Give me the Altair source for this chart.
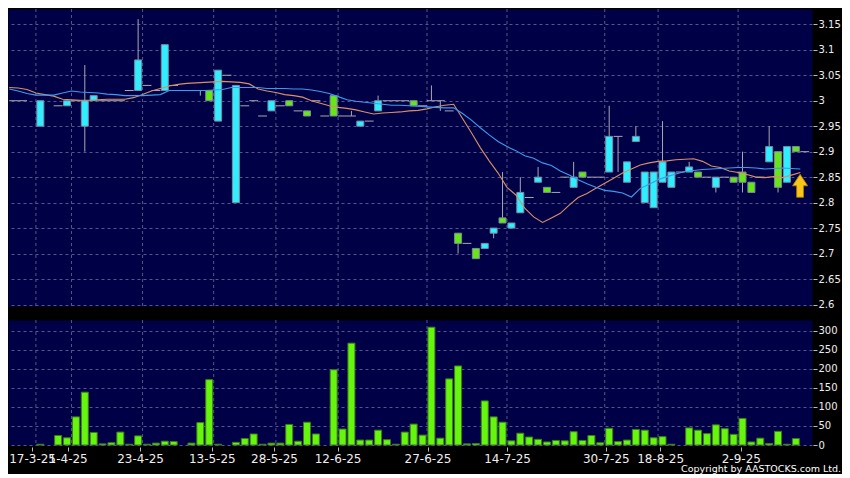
import altair as alt
import pandas as pd

# ---------------- data ----------------
opens = [3.00, 3.00, None, 2.95, None, 2.99, 2.99, 3.00, 2.95, 3.00,
         3.00, 3.00, 3.00, 3.02, 3.02, 3.03, 3.02, 3.02, 3.03, None,
         3.02, 3.02, 3.02, 2.96, 3.05, 2.80, 2.99, 3.00, 2.97, 2.98,
         2.99, 3.00, 2.98, 2.98, 3.00, 2.97, 3.01, 2.97, 2.97, 2.95,
         2.96, 2.98, 3.00, 3.00, 3.00, 3.00, 2.99, 3.00, 3.00, 2.98,
         2.74, 2.72, 2.71, 2.71, 2.74, 2.77, 2.75, 2.78, 2.81, 2.84,
         2.83, 2.82, 2.85, 2.83, 2.86, 2.85, 2.85, 2.86, 2.93, 2.84,
         2.92, 2.80, 2.79, 2.84, 2.83, 2.86, 2.86, 2.86, 2.85, 2.83,
         2.85, 2.85, 2.86, 2.84, 2.85, 2.88, 2.90, 2.84, 2.91, 2.90]
closes = [3.00, 3.00, None, 3.00, None, 2.99, 3.00, 3.00, 3.00, 3.01,
          3.00, 3.00, 3.00, 3.02, 3.08, 3.03, 3.02, 3.11, 3.03, None,
          3.02, 3.02, 3.00, 3.06, 3.05, 3.03, 2.99, 3.00, 2.97, 3.00,
          2.99, 2.99, 2.98, 2.97, 3.00, 2.97, 2.97, 2.97, 2.97, 2.96,
          2.96, 3.00, 3.00, 3.00, 3.00, 2.99, 2.99, 3.00, 3.00, 2.98,
          2.72, 2.72, 2.69, 2.72, 2.75, 2.76, 2.76, 2.82, 2.81, 2.85,
          2.82, 2.82, 2.85, 2.85, 2.85, 2.85, 2.85, 2.93, 2.93, 2.88,
          2.93, 2.86, 2.86, 2.88, 2.86, 2.86, 2.87, 2.85, 2.85, 2.85,
          2.85, 2.84, 2.84, 2.82, 2.85, 2.91, 2.83, 2.91, 2.90, 2.90]
highs = [3.00, 3.00, None, 3.00, None, 2.99, 3.00, 3.00, 3.07, 3.01,
         3.00, 3.00, 3.00, 3.02, 3.16, 3.03, 3.02, 3.11, 3.03, None,
         3.02, 3.02, 3.02, 3.06, 3.05, 3.03, 2.99, 3.00, 2.97, 3.00,
         2.99, 3.00, 2.98, 2.98, 3.00, 2.97, 3.01, 2.97, 2.98, 2.96,
         2.96, 3.01, 3.00, 3.00, 3.00, 3.00, 2.99, 3.03, 3.00, 2.98,
         2.74, 2.72, 2.71, 2.72, 2.75, 2.86, 2.76, 2.85, 2.81, 2.87,
         2.83, 2.82, 2.85, 2.88, 2.86, 2.85, 2.85, 2.99, 2.93, 2.88,
         2.95, 2.86, 2.86, 2.96, 2.86, 2.86, 2.88, 2.86, 2.85, 2.85,
         2.85, 2.85, 2.90, 2.84, 2.85, 2.95, 2.90, 2.91, 2.91, 2.90]
lows = [3.00, 3.00, None, 2.95, None, 2.99, 2.99, 3.00, 2.90, 3.00,
        3.00, 3.00, 3.00, 3.02, 3.02, 3.03, 3.02, 3.02, 3.03, None,
        3.02, 3.01, 3.00, 2.96, 3.05, 2.80, 2.99, 3.00, 2.97, 2.98,
        2.99, 2.99, 2.98, 2.97, 3.00, 2.97, 2.97, 2.97, 2.97, 2.95,
        2.96, 2.98, 3.00, 3.00, 3.00, 2.99, 2.99, 3.00, 2.98, 2.98,
        2.70, 2.72, 2.69, 2.71, 2.73, 2.76, 2.75, 2.78, 2.81, 2.84,
        2.82, 2.82, 2.85, 2.83, 2.85, 2.85, 2.85, 2.86, 2.86, 2.84,
        2.92, 2.80, 2.79, 2.84, 2.83, 2.86, 2.86, 2.85, 2.85, 2.82,
        2.85, 2.84, 2.82, 2.82, 2.85, 2.88, 2.82, 2.84, 2.90, 2.90]
volumes = [0, 0, 0, 2, 0, 25, 19, 74, 139, 33,
           3, 6, 34, 2, 24, 2, 5, 10, 9, 0,
           5, 59, 172, 2, 0, 7, 17, 29, 2, 5,
           5, 54, 10, 60, 29, 0, 198, 42, 268, 13,
           13, 39, 14, 2, 34, 55, 26, 310, 18, 174,
           208, 3, 4, 116, 74, 60, 11, 31, 21, 15,
           8, 12, 11, 35, 12, 25, 6, 44, 9, 13,
           41, 39, 19, 22, 2, 0, 45, 39, 30, 53,
           43, 28, 70, 8, 18, 4, 36, 2, 17, 0]

# moving averages, one point per slot boundary (slot -1 .. 88)
ma_short = [3.026, 3.025, 3.022, 3.015, 3.012, 3.009, 3.003, 3.002, 3.001, 3.001,
            3.002, 3.003, 3.003, 3.003, 3.006, 3.012, 3.019, 3.024, 3.029, 3.032,
            3.034, 3.035, 3.036, 3.037, 3.038, 3.037, 3.036, 3.033, 3.023, 3.019,
            3.016, 3.012, 3.010, 3.007, 3.000, 2.995, 2.990, 2.987, 2.985, 2.982,
            2.978, 2.974, 2.976, 2.977, 2.978, 2.980, 2.981, 2.984, 2.988, 2.991,
            2.993, 2.965, 2.937, 2.908, 2.882, 2.858, 2.830, 2.815, 2.789, 2.772,
            2.761, 2.770, 2.779, 2.795, 2.810, 2.818, 2.828, 2.838, 2.848, 2.858,
            2.866, 2.874, 2.878, 2.881, 2.882, 2.884, 2.885, 2.886, 2.881, 2.872,
            2.869, 2.862, 2.859, 2.855, 2.850, 2.849, 2.851, 2.849, 2.854, 2.859]
ma_long = [3.023, 3.019, 3.014, 3.011, 3.011, 3.011, 3.015, 3.019, 3.017, 3.016,
           3.015, 3.013, 3.012, 3.010, 3.010, 3.010, 3.011, 3.012, 3.020, 3.020,
           3.020, 3.020, 3.020, 3.021, 3.022, 3.026, 3.026, 3.026, 3.026, 3.024,
           3.024, 3.024, 3.023, 3.023, 3.021, 3.018, 3.014, 3.008, 3.002, 2.999,
           2.997, 2.995, 2.993, 2.991, 2.991, 2.990, 2.989, 2.988, 2.987, 2.986,
           2.986, 2.975, 2.962, 2.947, 2.933, 2.920, 2.910, 2.902, 2.892, 2.887,
           2.878, 2.873, 2.862, 2.854, 2.845, 2.837, 2.830, 2.824, 2.822, 2.819,
           2.811, 2.828, 2.836, 2.845, 2.851, 2.856, 2.861, 2.863, 2.865, 2.866,
           2.867, 2.868, 2.869, 2.869, 2.868, 2.866, 2.867, 2.868, 2.867, 2.866]

date_labels = ["17-3-25", "1-4-25", "23-4-25", "13-5-25", "28-5-25", "12-6-25",
               "27-6-25", "14-7-25", "30-7-25", "18-8-25", "2-9-25"]
date_ticks = [2.07, 6.07, 14.22, 22.29, 29.29, 36.44, 46.56, 55.51, 66.62, 72.73, 81.81]
date_grid = [2.5, 6.5, 14.5, 22.5, 29.5, 36.5, 46.5, 55.5, 66.5, 72.5, 81.5]
price_ticks = [2.6, 2.65, 2.7, 2.75, 2.8, 2.85, 2.9, 2.95, 3.0, 3.05, 3.1, 3.15]
volume_ticks = [0, 50, 100, 150, 200, 250, 300]
last_marker = {"i": [88.48], "p": [2.833]}

# ---------------- styling ----------------
NAVY = "#000046"
GRID = "#55558F"
LABEL = "#EEEEEE"
CYAN = "#2EEEFF"
GREEN = "#66E614"
BODY_STROKE = "#7A8AA0"
WICK = "#A8A8B0"
ORANGE = "#DC8E66"
BLUE = "#3C9CEC"
VOL_FILL = "#66F50C"
VOL_STROKE = "#3D7A1F"
ARROW = "M0,-1 L0.66,0 L0.3,0 L0.3,1 L-0.3,1 L-0.3,0 L-0.66,0 Z"

W = 804
H_PRICE = 297
H_VOL = 125
X_DOMAIN = [-0.078, 89.256]
P_DOMAIN = [2.5971, 3.1800]
V_DOMAIN = [0, 328.9]

# ---------------- frames ----------------
n = len(opens)
cdf = pd.DataFrame({"i": list(range(n)), "open": opens, "high": highs,
                    "low": lows, "close": closes, "vol": volumes})
cdf = cdf.dropna(subset=["open"]).reset_index(drop=True)
cdf["kind"] = ["up" if c > o else ("down" if c < o else "flat")
               for o, c in zip(cdf["open"], cdf["close"])]
vdf = pd.DataFrame({"i": list(range(n)), "vol": volumes})
ma_x = [j + 0.5 for j in range(-1, len(ma_short) - 1)]
sdf = pd.DataFrame({"x": ma_x, "v": ma_short})
ldf = pd.DataFrame({"x": ma_x, "v": ma_long})
gdf = pd.DataFrame({"g": date_grid})
adf = pd.DataFrame(last_marker)

xs = alt.Scale(domain=X_DOMAIN, nice=False, zero=False)
ys = alt.Scale(domain=P_DOMAIN, nice=False, zero=False)
vs = alt.Scale(domain=V_DOMAIN, nice=False, zero=False)

yaxis = alt.Axis(orient="right", values=price_ticks, format=".3~g", offset=1,
                 tickSize=4, labelPadding=1, grid=True, domain=False, title=None)
vaxis = alt.Axis(orient="right", values=volume_ticks, offset=1, tickSize=4,
                 labelPadding=1, grid=True, domain=False, title=None)
label_expr = " : ".join(
    f"abs(datum.value - {p}) < 0.01 ? '{t}'" for p, t in zip(date_ticks, date_labels)
) + " : ''"
xaxis = alt.Axis(values=date_ticks, labelExpr=label_expr, tickSize=4, offset=2,
                 labelPadding=2, domain=False, grid=False, labelFlush=20,
                 labelFlushOffset=19, labelOverlap=False, labelFontSize=12,
                 title=None)

# ---------------- price panel ----------------
vgrid_p = alt.Chart(gdf).mark_rule(color=GRID, strokeDash=[3, 3], strokeWidth=1).encode(
    x=alt.X("g:Q", scale=xs, axis=None))

wicks = alt.Chart(cdf).transform_filter("datum.high > datum.low").mark_rule(
    color=WICK, strokeWidth=1, clip=True).encode(
    x=alt.X("i:Q", scale=xs, axis=None),
    y=alt.Y("low:Q", scale=ys, axis=yaxis), y2="high:Q")

dojis = alt.Chart(cdf).transform_filter("datum.kind == 'flat'").transform_calculate(
    xa="datum.i - 0.5", xb="datum.i + 0.5").mark_rule(
    color=WICK, strokeWidth=1, clip=True).encode(
    x=alt.X("xa:Q", scale=xs, axis=None), x2="xb:Q",
    y=alt.Y("close:Q", scale=ys, axis=yaxis))

up_bodies = alt.Chart(cdf).transform_filter("datum.kind == 'up'").mark_bar(
    size=7, color=CYAN, stroke=BODY_STROKE, strokeWidth=1, clip=True).encode(
    x=alt.X("i:Q", scale=xs, axis=None),
    y=alt.Y("open:Q", scale=ys, axis=yaxis), y2="close:Q")

down_bodies = alt.Chart(cdf).transform_filter("datum.kind == 'down'").mark_bar(
    size=7, color=GREEN, stroke=BODY_STROKE, strokeWidth=1, clip=True).encode(
    x=alt.X("i:Q", scale=xs, axis=None),
    y=alt.Y("open:Q", scale=ys, axis=yaxis), y2="close:Q")

ma_s = alt.Chart(sdf).mark_line(color=ORANGE, strokeWidth=1.1, clip=True).encode(
    x=alt.X("x:Q", scale=xs, axis=None), y=alt.Y("v:Q", scale=ys, axis=yaxis))
ma_l = alt.Chart(ldf).mark_line(color=BLUE, strokeWidth=1.1, clip=True).encode(
    x=alt.X("x:Q", scale=xs, axis=None), y=alt.Y("v:Q", scale=ys, axis=yaxis))

arrow = alt.Chart(adf).mark_point(shape=ARROW, size=529, filled=True, fill="#F5C518",
                                  stroke="#B07A00", strokeWidth=0.8, opacity=1,
                                  clip=True).encode(
    x=alt.X("i:Q", scale=xs, axis=None), y=alt.Y("p:Q", scale=ys, axis=yaxis))

price = alt.layer(vgrid_p, wicks, dojis, up_bodies, down_bodies, ma_s, ma_l, arrow).properties(
    width=W, height=H_PRICE)

# ---------------- volume panel ----------------
vgrid_v = alt.Chart(gdf).mark_rule(color=GRID, strokeDash=[3, 3], strokeWidth=1).encode(
    x=alt.X("g:Q", scale=xs, axis=xaxis))
vbars = alt.Chart(vdf).transform_filter("datum.vol > 0").mark_bar(
    size=7, color=VOL_FILL, stroke=VOL_STROKE, strokeWidth=1).encode(
    x=alt.X("i:Q", scale=xs, axis=xaxis),
    y=alt.Y("vol:Q", scale=vs, axis=vaxis))

volume = alt.layer(vgrid_v, vbars).properties(
    width=W, height=H_VOL,
    title=alt.TitleParams("Copyright by AASTOCKS.com Ltd.", orient="bottom", anchor="end",
                          fontSize=9.5, font="DejaVu Sans", color="#FFFFFF",
                          fontWeight="normal", offset=0, dx=4))

chart = alt.vconcat(price, volume, spacing=14, bounds="flush").properties(
    padding=0, background="#000000"
).configure_view(fill=NAVY, strokeOpacity=0).configure_axis(
    labelFont="DejaVu Sans", labelColor=LABEL, labelFontSize=10,
    tickColor="#BBBBBB", gridColor=GRID, gridDash=[3, 3], gridWidth=1, domain=False)

chart.save("out.html", embed_options={"renderer": "svg", "actions": False})
